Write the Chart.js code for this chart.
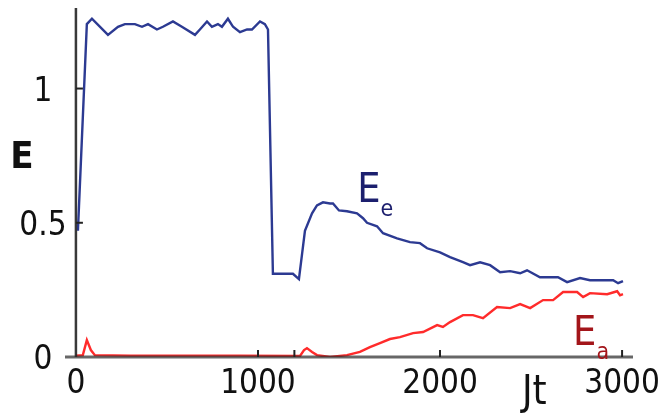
<!DOCTYPE html>
<html>
<head>
<meta charset="utf-8">
<script src="https://cdn.jsdelivr.net/npm/chart.js@4.4.1/dist/chart.umd.min.js"></script>
<style>
  html, body { margin: 0; padding: 0; background: #fff; }
  #wrap { width: 660px; height: 413px; }
</style>
</head>
<body>
<div id="wrap"><canvas id="energy"></canvas></div>
<script>
// time axis (Jt) and energy values for the two curves
const eeTime = [11, 60, 88, 176, 231, 269, 324, 363, 396, 445, 478, 533, 582, 654, 681, 720, 747, 780, 802, 835, 863, 901, 940, 967, 1011, 1038, 1055,
  1082, 1148, 1192, 1225, 1258, 1297, 1324, 1357, 1396, 1412, 1445, 1489, 1544, 1577, 1599, 1654, 1687, 1764, 1835, 1890, 1929, 2000,
  2055, 2126, 2165, 2220, 2275, 2330, 2385, 2440, 2478, 2549, 2648, 2698, 2769, 2824, 2951, 2978, 3005];
const eeValues = [0.47, 1.24, 1.26, 1.20, 1.23, 1.24, 1.24, 1.23, 1.24, 1.22, 1.23, 1.25, 1.23, 1.20, 1.22, 1.25, 1.23, 1.24, 1.23, 1.26, 1.23, 1.21, 1.22, 1.22, 1.25, 1.24, 1.22,
  0.31, 0.31, 0.31, 0.29, 0.47, 0.535, 0.565, 0.576, 0.572, 0.572, 0.546, 0.543, 0.535, 0.517, 0.50, 0.487, 0.461, 0.442, 0.428, 0.424, 0.405, 0.39,
  0.372, 0.353, 0.342, 0.353, 0.342, 0.316, 0.32, 0.312, 0.323, 0.297, 0.297, 0.279, 0.294, 0.286, 0.286, 0.275, 0.283];

const eaTime = [0, 38, 60, 82, 104, 300, 600, 900, 1231, 1253, 1269, 1297, 1324, 1396, 1489, 1560, 1615, 1670, 1725, 1780, 1852, 1907, 1984, 2016,
  2055, 2126, 2181, 2236, 2313, 2385, 2440, 2495, 2566, 2621, 2676, 2753, 2786, 2824, 2918, 2973, 2989, 3005];
const eaValues = [0.005, 0.007, 0.063, 0.026, 0.007, 0.005, 0.005, 0.005, 0.004, 0.026, 0.033, 0.019, 0.007, 0.0, 0.007, 0.019, 0.037, 0.052, 0.067, 0.074, 0.089, 0.093, 0.119, 0.112,
  0.13, 0.156, 0.156, 0.145, 0.186, 0.182, 0.197, 0.182, 0.212, 0.212, 0.242, 0.242, 0.223, 0.238, 0.234, 0.245, 0.23, 0.234];

const xTicks = [1000, 1200, 2000, 3000];
const xTickLabels = ['0', '1000', '2000', '3000'];
const xLabelValues = [0, 1000, 2000, 3000];
const yTicks = [0.5, 1];
const yTickLabels = ['0', '0.5', '1'];
const yLabelValues = [0, 0.5, 1];

const FONT = '"Liberation Sans Narrow", "DejaVu Sans Condensed", "Liberation Sans", sans-serif';

const toPoints = (xs, ys) => xs.map((x, i) => ({ x, y: ys[i] }));

// axes, inward ticks and all the text are drawn by hand from the scales
const frame = {
  id: 'frame',
  afterDatasetsDraw(chart) {
    const { ctx, scales: { x, y } } = chart;
    const x0 = x.getPixelForValue(0);
    const y0 = y.getPixelForValue(0);
    ctx.save();
    ctx.lineCap = 'butt';

    // y axis
    ctx.strokeStyle = 'rgba(35,35,35,0.9)';
    ctx.lineWidth = 2.5;
    ctx.beginPath();
    ctx.moveTo(x0, chart.chartArea.top);
    ctx.lineTo(x0, y0);
    ctx.stroke();

    // x axis, runs a little past the y axis on the left
    ctx.strokeStyle = 'rgba(45,45,45,0.72)';
    ctx.lineWidth = 3;
    ctx.beginPath();
    ctx.moveTo(chart.chartArea.left, y0);
    ctx.lineTo(chart.chartArea.right, y0);
    ctx.stroke();

    ctx.strokeStyle = '#222';
    ctx.lineWidth = 2;
    xTicks.forEach(v => {
      const px = x.getPixelForValue(v);
      ctx.beginPath();
      ctx.moveTo(px, y0);
      ctx.lineTo(px, y0 - 7);
      ctx.stroke();
    });
    yTicks.forEach(v => {
      const py = y.getPixelForValue(v);
      ctx.beginPath();
      ctx.moveTo(x0, py);
      ctx.lineTo(x0 + 7, py);
      ctx.stroke();
    });

    // tick labels
    ctx.fillStyle = '#111';
    ctx.font = '33px ' + FONT;
    ctx.textAlign = 'center';
    ctx.textBaseline = 'alphabetic';
    xLabelValues.forEach((v, i) => {
      ctx.fillText(xTickLabels[i], x.getPixelForValue(v), y0 + 36);
    });
    yLabelValues.forEach((v, i) => {
      ctx.fillText(yTickLabels[i], x0 - 33, y.getPixelForValue(v) + 12);
    });

    // axis titles
    ctx.font = 'bold 38px ' + FONT;
    ctx.fillText('E', x0 - 54, y.getPixelForValue(0.705));
    ctx.textAlign = 'left';
    ctx.font = '40px ' + FONT;
    ctx.fillText('Jt', x.getPixelForValue(2450), y0 + 47);

    // curve labels with subscripts
    const sub = (main, s, color, tx, ey) => {
      const px = x.getPixelForValue(tx);
      const py = y.getPixelForValue(ey);
      ctx.fillStyle = color;
      ctx.font = '41px ' + FONT;
      ctx.fillText(main, px, py);
      const w = ctx.measureText(main).width;
      ctx.font = '23px ' + FONT;
      ctx.fillText(s, px + w, py + 14);
    };
    sub('E', 'e', '#1c1f6e', 1545, 0.576);
    sub('E', 'a', '#a3151a', 2731, 0.045);
    ctx.restore();
  }
};

new Chart(document.getElementById('energy'), {
  type: 'line',
  data: {
    datasets: [
      {
        label: 'Ee',
        data: toPoints(eeTime, eeValues),
        borderColor: '#2c3a92',
        borderWidth: 2.4,
        pointRadius: 0,
        tension: 0
      },
      {
        label: 'Ea',
        data: toPoints(eaTime, eaValues),
        borderColor: '#ff2b2b',
        borderWidth: 2.4,
        pointRadius: 0,
        tension: 0
      }
    ]
  },
  options: {
    responsive: true,
    maintainAspectRatio: false,
    animation: false,
    events: [],
    layout: { padding: { left: 65, right: 27, top: 8, bottom: 56 } },
    plugins: { legend: { display: false }, tooltip: { enabled: false } },
    scales: {
      x: { type: 'linear', min: -60, max: 3060, display: false },
      y: { type: 'linear', min: 0, max: 1.3, display: false }
    }
  },
  plugins: [frame]
});
</script>
</body>
</html>
